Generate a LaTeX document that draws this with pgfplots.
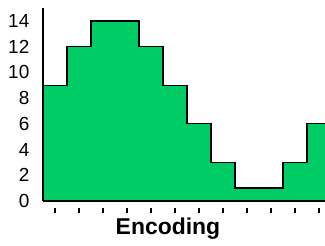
\documentclass[border=0pt]{standalone}
\usepackage{pgfplots}
\pgfplotsset{compat=1.18}
\usepackage{fontspec}
\setmainfont{Liberation Sans}
\definecolor{areagreen}{RGB}{0,204,102}
\begin{document}
\begin{tikzpicture}
\begin{axis}[
  scale only axis,
  width=282bp, height=193bp,
  xmin=-0.5, xmax=11.25, ymin=0, ymax=15,
  axis x line=bottom, axis y line=left,
  axis line style={-},
  x axis line style={line width=2.3bp},
  y axis line style={line width=1.3bp},
  ytick={0,2,...,14},
  xtick={0,...,11},
  xticklabels={},
  xtick style={line width=1.3bp, black, yshift=-7bp},
  xtick align=outside,
  ytick style={draw=none},
  major tick length=5bp,
  /pgf/number format/assume math mode=true,
  tick label style={font=\fontsize{19}{19}\selectfont},
  yticklabel style={anchor=east, inner sep=0pt, xshift=-11bp},
  xlabel={Encoding},
  xlabel style={font=\fontsize{23}{23}\selectfont\bfseries, anchor=base, at={(axis description cs:0.443,-0.176)}},
  axis on top,
  clip=true,
]
\addplot[const plot, fill=areagreen, draw=black, line width=1.3bp] coordinates {
(-0.5,9) (0.5,12) (1.5,14) (2.5,14) (3.5,12) (4.5,9) (5.5,6) (6.5,3) (7.5,1) (8.5,1) (9.5,3) (10.5,6) (11.5,6)
} \closedcycle;
\end{axis}
\pgfresetboundingbox
\path (current axis.south west) ++(-43bp,-45bp) rectangle ([yshift=8bp]current axis.north east);
\end{tikzpicture}
\end{document}
